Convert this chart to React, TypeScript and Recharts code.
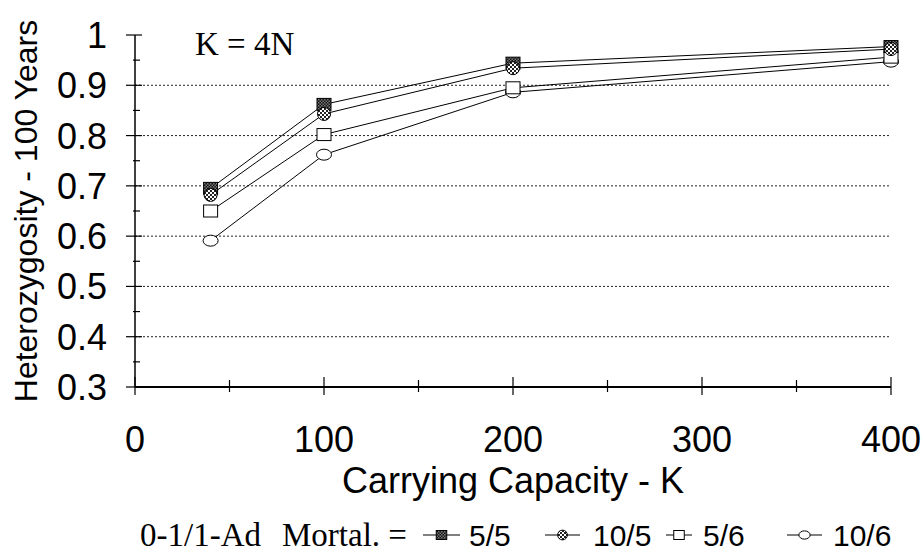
import { LineChart, Line, XAxis, YAxis, ReferenceLine } from 'recharts';

const capacity = [40, 100, 200, 400];
const mort55 = [0.695, 0.862, 0.944, 0.977];
const mort105 = [0.682, 0.843, 0.934, 0.972];
const mort56 = [0.65, 0.802, 0.895, 0.956];
const mort106 = [0.591, 0.762, 0.886, 0.947];

const seriesNames = ['5/5', '10/5', '5/6', '10/6'];
const xMajor = [0, 100, 200, 300, 400];
const xMinor = [50, 150, 250, 350];
const yMajor = [0.3, 0.4, 0.5, 0.6, 0.7, 0.8, 0.9, 1];
const yMinor = [0.35, 0.45, 0.55, 0.65, 0.75, 0.85, 0.95];
const gridValues = [0.4, 0.5, 0.6, 0.7, 0.8, 0.9];

const data = capacity.map((k, i) => ({
  k,
  m55: mort55[i],
  m105: mort105[i],
  m56: mort56[i],
  m106: mort106[i],
}));

const SANS = '"Liberation Sans", Arial, sans-serif';
const SERIF = '"Liberation Serif", "Times New Roman", serif';

// marker shapes, scale s for legend use
const Marker = ({ kind, cx, cy, s = 1 }: { kind: string; cx: number; cy: number; s?: number }) => {
  if (cx == null || cy == null) return null;
  if (kind === '5/5')
    return <rect x={cx - 7 * s} y={cy - 6 * s} width={14 * s} height={12 * s} fill="url(#pat55)" stroke="#000" strokeWidth={1} />;
  if (kind === '10/5')
    return <circle cx={cx} cy={cy} r={6.5 * s} fill="url(#pat105)" stroke="#000" strokeWidth={1} />;
  if (kind === '5/6')
    return <rect x={cx - 7 * s} y={cy - 6 * s} width={14 * s} height={12 * s} fill="#fff" stroke="#000" strokeWidth={1} />;
  return <ellipse cx={cx} cy={cy} rx={7.5 * s} ry={5.5 * s} fill="#fff" stroke="#000" strokeWidth={1} />;
};

const XTick = (props: any) => {
  const { x, y, payload } = props;
  const major = xMajor.includes(payload.value);
  return (
    <g>
      <line x1={x} x2={x} y1={y - (major ? 10 : 7)} y2={y + (major ? 8 : 5)} stroke="#000" strokeWidth={1.2} />
      {major && (
        <text x={x} y={y + 65} textAnchor="middle" fontSize={36} fontFamily={SANS} fill="#000">
          {payload.value}
        </text>
      )}
    </g>
  );
};

const YTick = (props: any) => {
  const { x, y, payload } = props;
  const major = yMajor.includes(payload.value);
  return (
    <g>
      <line x1={major ? x - 9 : x - 2} x2={major ? x + 7 : x + 5} y1={y} y2={y} stroke="#000" strokeWidth={1.2} />
      {major && (
        <text x={x - 28} y={y + 13} textAnchor="end" fontSize={36} fontFamily={SANS} fill="#000">
          {String(payload.value)}
        </text>
      )}
    </g>
  );
};

const legendX = [423, 545, 666, 787];
const legendW = [37, 35, 26, 35];
const legendTextX = [469, 593, 703, 833];

const App = () => {
  return (
    <div style={{ position: 'absolute', left: 0, top: 0, width: 924, height: 556, background: '#fff' }}>
      <LineChart width={924} height={556} data={data} margin={{ top: 35, right: 33, bottom: 0, left: 0 }}>
        <XAxis
          dataKey="k"
          type="number"
          domain={[0, 400]}
          ticks={[...xMajor, ...xMinor].sort((a, b) => a - b)}
          interval={0}
          height={169}
          tickSize={0}
          tickMargin={0}
          tick={<XTick />}
          tickLine={false}
          axisLine={{ stroke: '#000', strokeWidth: 2 }}
          label={(p: any) => {
            const vb = p.viewBox;
            return (
              <text x={vb.x + vb.width / 2} y={493} textAnchor="middle" fontSize={36} fontFamily={SANS} fill="#000">
                Carrying Capacity - K
              </text>
            );
          }}
        />
        <YAxis
          type="number"
          domain={[0.3, 1]}
          ticks={[...yMajor, ...yMinor].sort((a, b) => a - b)}
          interval={0}
          width={135}
          tickSize={0}
          tickMargin={0}
          tick={<YTick />}
          tickLine={false}
          axisLine={{ stroke: '#000', strokeWidth: 1.5 }}
          label={(p: any) => {
            const vb = p.viewBox;
            const cy = vb.y + vb.height / 2;
            return (
              <text
                x={37}
                y={cy}
                transform={`rotate(-90, 37, ${cy})`}
                textAnchor="middle"
                fontSize={32}
                fontFamily={SANS}
                fill="#000"
              >
                Heterozygosity - 100 Years
              </text>
            );
          }}
        />
        {gridValues.map((v) => (
          <ReferenceLine key={v} y={v} stroke="#222" strokeWidth={1} strokeDasharray="2 2" />
        ))}
        <Line dataKey="m106" type="linear" stroke="#000" strokeWidth={1} isAnimationActive={false}
          dot={(p: any) => <Marker key={`a${p.index}`} kind="10/6" cx={p.cx} cy={p.cy} />} />
        <Line dataKey="m56" type="linear" stroke="#000" strokeWidth={1} isAnimationActive={false}
          dot={(p: any) => <Marker key={`b${p.index}`} kind="5/6" cx={p.cx} cy={p.cy} />} />
        <Line dataKey="m55" type="linear" stroke="#000" strokeWidth={1} isAnimationActive={false}
          dot={(p: any) => <Marker key={`c${p.index}`} kind="5/5" cx={p.cx} cy={p.cy} />} />
        <Line dataKey="m105" type="linear" stroke="#000" strokeWidth={1} isAnimationActive={false}
          dot={(p: any) => <Marker key={`d${p.index}`} kind="10/5" cx={p.cx} cy={p.cy} />} />
      </LineChart>
      <svg width={924} height={556} style={{ position: 'absolute', left: 0, top: 0, pointerEvents: 'none' }}>
        <defs>
          <pattern id="pat55" width="3" height="3" patternUnits="userSpaceOnUse">
            <rect width="3" height="3" fill="#111" />
            <rect width="1.5" height="1.5" fill="#777" />
            <rect x="1.5" y="1.5" width="1.5" height="1.5" fill="#777" />
          </pattern>
          <pattern id="pat105" width="4" height="4" patternUnits="userSpaceOnUse">
            <rect width="4" height="4" fill="#fff" />
            <rect width="2" height="2" fill="#222" />
            <rect x="2" y="2" width="2" height="2" fill="#222" />
          </pattern>
        </defs>
        <text x={195} y={55} fontSize={33} fontFamily={SERIF} fill="#000">K = 4N</text>
        <text x={140} y={546} fontSize={33} fontFamily={SERIF} fill="#000">0-1/1-Ad</text>
        <text x={282} y={546} fontSize={33} fontFamily={SERIF} fill="#000">Mortal. =</text>
        {seriesNames.map((name, i) => (
          <g key={name}>
            <line x1={legendX[i]} x2={legendX[i] + legendW[i]} y1={535} y2={535} stroke="#000" strokeWidth={1} />
            <Marker kind={name} cx={legendX[i] + legendW[i] / 2} cy={535} s={0.75} />
            <text x={legendTextX[i]} y={546} fontSize={30} fontFamily={SANS} fill="#000">{name}</text>
          </g>
        ))}
      </svg>
    </div>
  );
};

export default App;
